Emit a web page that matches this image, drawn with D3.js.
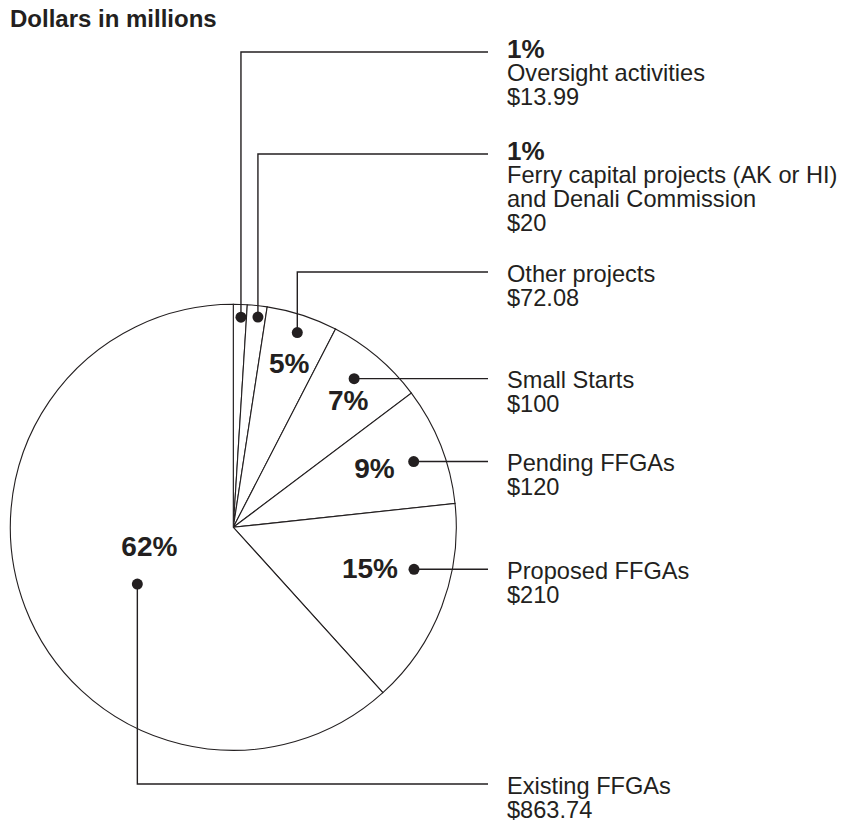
<!DOCTYPE html>
<html>
<head>
<meta charset="utf-8">
<script src="https://cdn.jsdelivr.net/npm/d3@7"></script>
<style>
  body { margin: 0; background: #fff; }
  svg { display: block; font-family: "Liberation Sans", Arial, Helvetica, sans-serif; }
  .label { font-size: 23.6px; fill: #231f20; }
  .pct { font-size: 28px; font-weight: bold; fill: #231f20; }
</style>
</head>
<body>
<div id="chart"></div>
<script>
// Slices in clockwise order starting at 12 o'clock
const categories = [
    'Oversight activities',
    'Ferry capital projects (AK or HI)\nand Denali Commission',
    'Other projects',
    'Small Starts',
    'Pending FFGAs',
    'Proposed FFGAs',
    'Existing FFGAs'
]
const values = [13.99, 20, 72.08, 100, 120, 210, 863.74]

// Callout layout: where the dot sits inside its slice (share of slice angle, share of radius),
// which way the leader runs, and where the % label goes relative to the dot
const callouts = [
    { t: 0.58, rf: 0.943, route: 'up', leaderY: 52, pctInText: true },
    { t: 0.60, rf: 0.949, route: 'up', leaderY: 154, pctInText: true },
    { t: 0.51, rf: 0.919, route: 'up', leaderY: 272, pct: [-8, 40, 'middle'] },
    { t: 0.46, rf: 0.859, route: 'right', pct: [-6, 31, 'middle'] },
    { t: 0.55, rf: 0.861, route: 'right', pct: [-19, 16, 'end'] },
    { t: 0.356, rf: 0.832, route: 'right', pct: [-16, 9, 'end'] },
    { t: 0.457, rf: 0.5, route: 'down', leaderY: 784, pct: [12, -28, 'middle'] }
]

class PieCallout {
    constructor(_config) {
        this.config = {
            parentElement: _config.parentElement,
            containerWidth: _config.containerWidth || 848,
            containerHeight: _config.containerHeight || 822,
            cx: 233.3,
            cy: 527.3,
            radius: 223,
            leaderEndX: 488,
            textX: 507,
            lineHeight: 24
        }
        this.initVis()
    }

    initVis() {
        let vis = this
        vis.svg = d3.select(vis.config.parentElement).append('svg')
            .attr('width', vis.config.containerWidth)
            .attr('height', vis.config.containerHeight)

        vis.svg.append('text')
            .attr('class', 'label')
            .attr('x', 10)
            .attr('y', 27)
            .style('font-weight', 'bold')
            .style('font-size', '24px')
            .text('Dollars in millions')

        vis.chart = vis.svg.append('g')
            .attr('transform', `translate(${vis.config.cx},${vis.config.cy})`)
        vis.renderVis()
    }

    renderVis() {
        let vis = this
        const cfg = vis.config
        const total = d3.sum(values)
        const fmtPct = d3.format('.0%')

        const pie = d3.pie().sort(null).value(d => d)
        const arcs = pie(values)
        const arc = d3.arc().innerRadius(0).outerRadius(cfg.radius)

        vis.chart.selectAll('.slice')
            .data(arcs)
            .join('path')
            .attr('class', 'slice')
            .attr('d', arc)
            .attr('fill', '#fff')
            .attr('stroke', '#231f20')
            .attr('stroke-width', 1.1)

        const pointArc = d3.arc()
        arcs.forEach((a, i) => {
            const c = callouts[i]
            const ang = a.startAngle + c.t * (a.endAngle - a.startAngle)
            const r = c.rf * cfg.radius
            const [dx, dy] = pointArc.centroid({ innerRadius: r, outerRadius: r, startAngle: ang, endAngle: ang })
            const px = cfg.cx + dx
            const py = cfg.cy + dy

            // leader path
            let pts
            let lineY
            if (c.route === 'right') {
                lineY = py
                pts = [[px, py], [cfg.leaderEndX, py]]
            } else {
                lineY = c.leaderY
                pts = [[px, py], [px, lineY], [cfg.leaderEndX, lineY]]
            }
            vis.svg.append('path')
                .attr('d', d3.line()(pts))
                .attr('fill', 'none')
                .attr('stroke', '#231f20')
                .attr('stroke-width', 1.4)

            vis.svg.append('circle')
                .attr('cx', px)
                .attr('cy', py)
                .attr('r', 5.5)
                .attr('fill', '#231f20')

            const pctText = fmtPct(a.value / total)

            // text block on the right
            const lines = []
            if (c.pctInText) lines.push({ text: pctText, bold: true })
            categories[i].split('\n').forEach(t => lines.push({ text: t }))
            lines.push({ text: '$' + a.value })

            const firstBase = lineY + (c.pctInText ? 6 : 9.5)
            vis.svg.append('text')
                .attr('class', 'label')
                .selectAll('tspan')
                .data(lines)
                .join('tspan')
                .attr('x', cfg.textX)
                .attr('y', (d, j) => firstBase + j * cfg.lineHeight - (c.pctInText && j > 0 ? 1.5 : 0))
                .style('font-weight', d => d.bold ? 'bold' : null)
                .style('font-size', d => d.bold ? '26px' : null)
                .text(d => d.text)

            if (c.pct) {
                vis.svg.append('text')
                    .attr('class', 'pct')
                    .attr('x', px + c.pct[0])
                    .attr('y', py + c.pct[1])
                    .attr('text-anchor', c.pct[2])
                    .text(pctText)
            }
        })
    }
}

new PieCallout({ parentElement: '#chart' })
</script>
</body>
</html>
